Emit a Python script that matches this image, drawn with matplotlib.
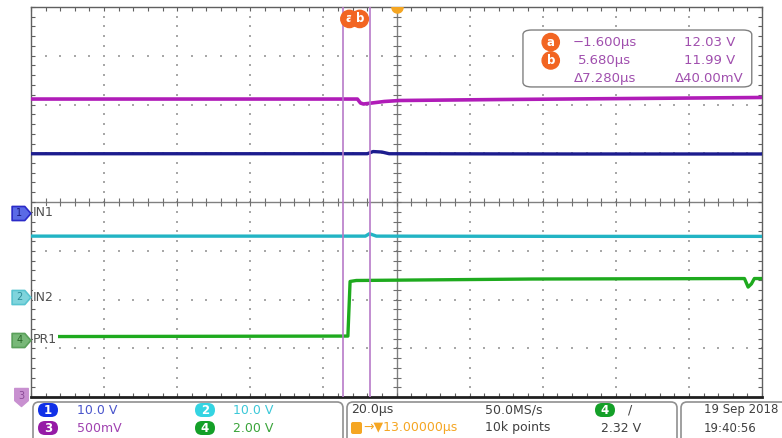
import matplotlib.pyplot as plt
from matplotlib.patches import FancyBboxPatch
from matplotlib.path import Path
from matplotlib.transforms import IdentityTransform, blended_transform_factory

W, H = 782, 438

# --- Acquisition settings ---
TIME_PER_DIV = 20.0     # us / div
H_POSITION = 13.0       # us at screen centre
N_HDIV, N_VDIV = 10, 8
SAMPLE_RATE = "50.0MS/s"
RECORD_LEN = "10k points"
TRIG_LEVEL = 2.32       # V, ch4 rising edge
TRIG_DELAY = 13.0       # us
DATE_STR, TIME_STR = "19 Sep 2018", "19:40:56"

# volts/div and ground-marker position (div) per channel
CH1_SCALE, CH1_POS = 10.0, -0.22
CH2_SCALE, CH2_POS = 10.0, -1.95
CH3_SCALE, CH3_OFFSET = 0.5, 10.975
CH4_SCALE, CH4_POS = 2.0, -2.83
CH_LABELS = {1: "IN1", 2: "IN2", 4: "PR1"}

# --- Trace samples: time (us), amplitude (V) ---
ch1_t = [-87.0, 5.0, 6.6, 9.0, 11.0, 60.0, 113.0]
ch1_v = [12.10, 12.10, 12.55, 12.45, 12.10, 12.05, 12.05]

ch2_t = [-87.0, 4.5, 5.6, 7.5, 60.0, 113.0]
ch2_v = [12.50, 12.50, 13.00, 12.50, 12.45, 12.45]

ch3_t = [-87.0, 2.3, 3.15, 3.97, 6.16, 9.7, 13.8, 41.2, 112.9]
ch3_v = [12.031, 12.031, 11.99, 11.98, 11.99, 12.006, 12.016, 12.026, 12.047]

ch4_t = [-79.8, -0.3, 0.3, 2.0, 50.0, 108.2, 109.2, 110.1, 110.9, 113.0]
ch4_v = [0.14, 0.16, 2.40, 2.44, 2.50, 2.52, 2.17, 2.30, 2.52, 2.52]

# cursor readout (ch3)
CURSOR_A_T, CURSOR_B_T = -1.600, 5.680
CURSOR_A_V, CURSOR_B_V = 12.03, 11.99

C_CH1, C_CH2, C_CH3, C_CH4 = "#1c1c8e", "#22b4c4", "#b01cb8", "#1eaa1e"
C_CURSOR = "#b77ac8"
C_ORANGE = "#f26522"
C_READOUT = "#a04fae"
C_TEXT = "#404040"

t0 = H_POSITION - TIME_PER_DIV * N_HDIV / 2
t1 = H_POSITION + TIME_PER_DIV * N_HDIV / 2

fig = plt.figure(figsize=(W / 100, H / 100), dpi=100)
ax = fig.add_axes([31 / W, 41 / H, 731 / W, 390 / H])
ax.set_xlim(t0, t1)
ax.set_ylim(-N_VDIV / 2, N_VDIV / 2)

# border ticks every 1/5 division
ax.set_xticks([t0 + i * TIME_PER_DIV / 5 for i in range(N_HDIV * 5 + 1)])
ax.set_yticks([-4 + i * 0.2 for i in range(N_VDIV * 5 + 1)])
ax.tick_params(direction="in", length=3, width=0.8, color="#606060",
               top=True, right=True, labelbottom=False, labelleft=False)
for sp in ax.spines.values():
    sp.set_color("#606060")
    sp.set_linewidth(1.0)
ax.spines["bottom"].set_color("#202020")
ax.spines["bottom"].set_linewidth(2.0)

# dotted graticule
gx, gy = [], []
for k in range(1, N_HDIV):
    if k == N_HDIV // 2:
        continue
    for j in range(N_VDIV * 5 + 1):
        gx.append(t0 + k * TIME_PER_DIV)
        gy.append(-4 + j * 0.2)
for k in range(1, N_VDIV):
    if k == N_VDIV // 2:
        continue
    for j in range(N_HDIV * 5 + 1):
        gx.append(t0 + j * TIME_PER_DIV / 5)
        gy.append(-4 + k)
ax.scatter(gx, gy, s=1.2, marker="s", color="#a8a8a8", linewidths=0, zorder=1)

# centre axes with minor ticks
ax.axvline(H_POSITION, color="#808080", lw=1.0, zorder=1)
ax.axhline(0, color="#808080", lw=1.0, zorder=1)
ax.plot([H_POSITION] * (N_VDIV * 5 + 1), [-4 + j * 0.2 for j in range(N_VDIV * 5 + 1)],
        ls="none", marker="_", ms=6, mew=0.8, color="#707070", zorder=1)
ax.plot([t0 + j * TIME_PER_DIV / 5 for j in range(N_HDIV * 5 + 1)], [0] * (N_HDIV * 5 + 1),
        ls="none", marker="|", ms=6, mew=0.8, color="#707070", zorder=1)

# traces
ax.plot(ch3_t, [(v - CH3_OFFSET) / CH3_SCALE for v in ch3_v], color=C_CH3, lw=2.6, zorder=3)
ax.plot(ch1_t, [CH1_POS + v / CH1_SCALE for v in ch1_v], color=C_CH1, lw=2.4, zorder=3)
ax.plot(ch2_t, [CH2_POS + v / CH2_SCALE for v in ch2_v], color=C_CH2, lw=2.4, zorder=3)
ax.plot(ch4_t, [CH4_POS + v / CH4_SCALE for v in ch4_v], color=C_CH4, lw=2.4, zorder=3)

# cursors
for ct in (CURSOR_A_T, CURSOR_B_T):
    ax.axvline(ct, color=C_CURSOR, lw=1.2, zorder=4)
top = blended_transform_factory(ax.transData, ax.transAxes)
for ct, lab, dx in ((CURSOR_A_T, "a", 4.5), (CURSOR_B_T, "b", -7.2)):
    ax.annotate(lab, xy=(ct, 1), xycoords=top, xytext=(dx, -8.6), textcoords="offset points",
                ha="center", va="center", fontsize=8.5, fontweight="bold", color="white",
                bbox=dict(boxstyle="circle,pad=0.18", fc=C_ORANGE, ec=C_ORANGE), zorder=6)

# horizontal position marker
ax.plot([H_POSITION], [1], transform=top, marker="o", ms=8, color="#f5a623",
        clip_on=True, zorder=6)

# cursor readout box
ax.add_patch(FancyBboxPatch((0.673, 0.795), 0.313, 0.146, transform=ax.transAxes,
                            boxstyle="round,pad=0,rounding_size=0.012",
                            fc="white", ec="#808080", lw=1.0, zorder=7))
dt = CURSOR_B_T - CURSOR_A_T
dv = (CURSOR_A_V - CURSOR_B_V) * 1000
rows = [("a", f"{CURSOR_A_T:.3f}µs".replace("-", "−"), f"{CURSOR_A_V:.2f} V"),
        ("b", f"{CURSOR_B_T:.3f}µs", f"{CURSOR_B_V:.2f} V"),
        (None, f"Δ{dt:.3f}µs", f"Δ{dv:.2f}mV")]
for i, (lab, ts, vs) in enumerate(rows):
    y = 0.910 - i * 0.047
    if lab:
        ax.text(0.711, y, lab, transform=ax.transAxes, ha="center", va="center",
                fontsize=8.5, fontweight="bold", color="white", zorder=8,
                bbox=dict(boxstyle="circle,pad=0.18", fc=C_ORANGE, ec=C_ORANGE))
    ax.text(0.785, y, ts, transform=ax.transAxes, ha="center", va="center",
            fontsize=9.5, color=C_READOUT, zorder=8)
    ax.text(0.928, y, vs, transform=ax.transAxes, ha="center", va="center",
            fontsize=9.5, color=C_READOUT, zorder=8)

# channel ground markers on the left edge
left = blended_transform_factory(ax.transAxes, ax.transData)
right_tag = Path([(-1, -0.75), (0.35, -0.75), (1, 0), (0.35, 0.75), (-1, 0.75), (-1, -0.75)],
                 [Path.MOVETO] + [Path.LINETO] * 4 + [Path.CLOSEPOLY])
down_tag = Path([(-0.75, 1), (0.75, 1), (0.75, -0.35), (0, -1), (-0.75, -0.35), (-0.75, 1)],
                [Path.MOVETO] + [Path.LINETO] * 4 + [Path.CLOSEPOLY])
for ch, pos, fc, ec, tc in ((1, CH1_POS, "#5a6ae6", "#2a2ac8", "#1a1a80"),
                            (2, CH2_POS, "#7fd4dc", "#58c4d0", "#2a8a96"),
                            (4, CH4_POS, "#78b878", "#5aa05a", "#2a6a2a")):
    ax.plot([-0.0137], [pos], transform=left, marker=right_tag, ms=13.5, mfc=fc, mec=ec,
            mew=1.2, clip_on=False, zorder=9)
    ax.text(-0.016, pos, str(ch), transform=left, ha="center", va="center",
            fontsize=7, color=tc, zorder=10)
    ax.text(0.003, pos, CH_LABELS[ch], transform=left, ha="left", va="center",
            fontsize=9, color="#505050", zorder=10,
            bbox=dict(boxstyle="square,pad=0.05", fc="white", ec="none"))
ax.plot([-0.0137], [-4.0], transform=left, marker=down_tag, ms=13, mfc="#c890d0",
        mec="#c890d0", clip_on=False, zorder=9)
ax.text(-0.0137, -3.97, "3", transform=left, ha="center", va="center",
        fontsize=7, color="#8a4a96", zorder=10)


# --- status bar (pixel coordinates, origin top-left) ---
def rbox(x0, y0, x1, y1, fc, ec, lw=1.0, r=6):
    p = FancyBboxPatch((x0, H - y1), x1 - x0, y1 - y0, transform=IdentityTransform(),
                       boxstyle=f"round,pad=0,rounding_size={r}", fc=fc, ec=ec, lw=lw)
    fig.add_artist(p)


def ftext(x, y, s, **kw):
    kw.setdefault("fontsize", 9)
    kw.setdefault("va", "center")
    fig.text(x / W, 1 - y / H, s, **kw)


def pill(x, y, num, fc):
    rbox(x - 10, y - 7, x + 10, y + 7, fc, fc, lw=0, r=7)
    ftext(x, y, str(num), ha="center", color="white", fontsize=8.5, fontweight="bold")


rbox(33, 402, 343, 446, "white", "#909090", lw=1.2)
rbox(347, 402, 677, 446, "white", "#909090", lw=1.2)
rbox(681, 402, 800, 446, "white", "#909090", lw=1.2)

pill(48, 410, 1, "#1030e8")
ftext(77, 410, f"{CH1_SCALE:.1f} V", color="#4a55cc")
pill(205, 410, 2, "#34d4e2")
ftext(233, 410, f"{CH2_SCALE:.1f} V", color="#3cc8d8")
pill(48, 428, 3, "#961aa6")
ftext(77, 428, f"{CH3_SCALE * 1000:.0f}mV", color="#a042b0")
pill(205, 428, 4, "#14a028")
ftext(233, 428, f"{CH4_SCALE:.2f} V", color="#3aa43a")

ftext(351, 410, f"{TIME_PER_DIV:.1f}µs", color=C_TEXT)
rbox(351, 422, 362, 434, "#f5a623", "#f5a623", lw=0, r=2)
ftext(363, 428, f"→▼{TRIG_DELAY:.5f}µs", color="#f5a623")
ftext(485, 410, SAMPLE_RATE, color=C_TEXT)
ftext(485, 428, RECORD_LEN, color=C_TEXT)
pill(605, 410, 4, "#14a028")
ftext(628, 410, "/", color=C_TEXT)
ftext(601, 428, f"{TRIG_LEVEL:.2f} V", color=C_TEXT)
ftext(704, 410, DATE_STR, color=C_TEXT, fontsize=8.5)
ftext(704, 428, TIME_STR, color=C_TEXT, fontsize=8.5)

fig.savefig("out.png", dpi=100)
